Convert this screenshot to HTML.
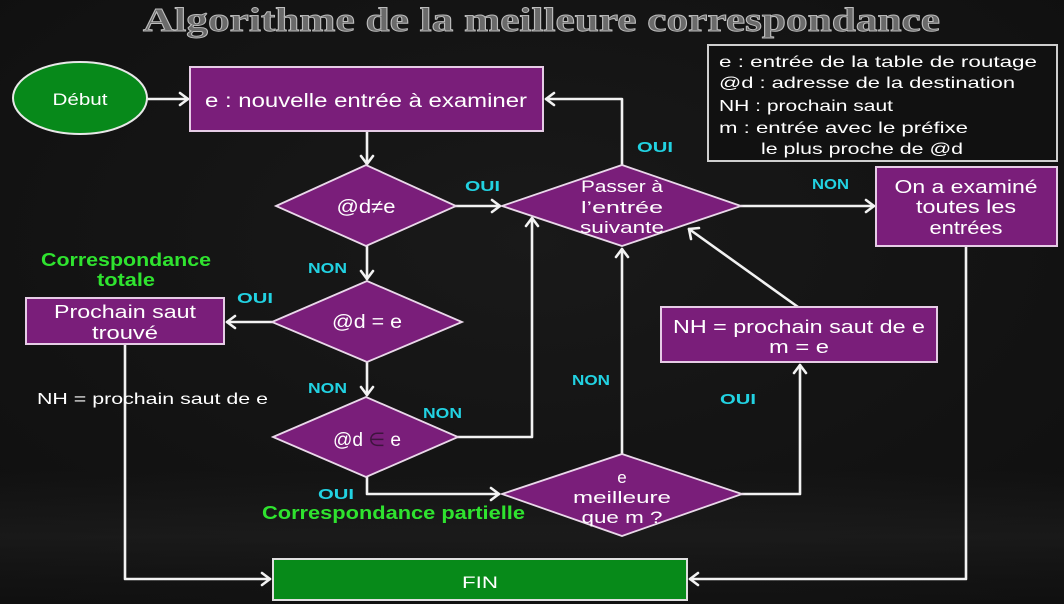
<!DOCTYPE html>
<html><head><meta charset="utf-8"><style>
html,body{margin:0;padding:0;background:#141414;}
svg{display:block;}
text{font-family:"Liberation Sans","DejaVu Sans",sans-serif;}
</style></head><body>
<svg width="1064" height="604" viewBox="0 0 1064 604" xmlns="http://www.w3.org/2000/svg">
<defs>
<radialGradient id="bg" cx="50%" cy="40%" r="75%">
<stop offset="0" stop-color="#191919"/><stop offset="1" stop-color="#0f0f0f"/>
</radialGradient>
<linearGradient id="fog" x1="0" y1="0" x2="0" y2="1">
<stop offset="0" stop-color="#2a2a2a" stop-opacity="0"/>
<stop offset="0.5" stop-color="#2a2a2a" stop-opacity="0.35"/>
<stop offset="1" stop-color="#1a1a1a" stop-opacity="0.1"/>
</linearGradient>
</defs>
<rect width="1064" height="604" fill="url(#bg)"/>
<rect x="0" y="470" width="1064" height="134" fill="url(#fog)"/>

<!-- Title -->
<text x="143" y="31" font-weight="bold" font-size="34" fill="#6a6a6a" stroke="#bdbdbd" stroke-width="0.9" textLength="797" lengthAdjust="spacingAndGlyphs" style="font-family:'Liberation Serif',serif">Algorithme de la meilleure correspondance</text>

<!-- connectors -->
<g stroke="#f2f2f2" stroke-width="2.6" fill="none" stroke-linecap="round" stroke-linejoin="round">
<line x1="147" y1="99" x2="188" y2="99"/><polyline points="180,93 188,99 180,105"/>
<line x1="367" y1="131" x2="367" y2="164"/><polyline points="361,156 367,164 373,156"/>
<line x1="456" y1="206" x2="500" y2="206"/><polyline points="492,200 500,206 492,212"/>
<polyline points="622,165 622,99 546,99"/><polyline points="554,93 546,99 554,105"/>
<line x1="741" y1="206" x2="874" y2="206"/><polyline points="866,200 874,206 866,212"/>
<polyline points="966,246 966,579 690,579"/><polyline points="698,573 690,579 698,585"/>
<line x1="367" y1="246" x2="367" y2="279"/><polyline points="361,271 367,279 373,271"/>
<line x1="272" y1="322" x2="227" y2="322"/><polyline points="235,316 227,322 235,328"/>
<line x1="367" y1="362" x2="367" y2="395"/><polyline points="361,387 367,395 373,387"/>
<polyline points="458,437 532,437 532,218"/><polyline points="526,226 532,218 538,226"/>
<polyline points="125,344 125,579 270,579"/><polyline points="262,573 270,579 262,585"/>
<polyline points="367,477 367,494 499,494"/><polyline points="491,488 499,494 491,500"/>
<line x1="622" y1="454" x2="622" y2="249"/><polyline points="616,257 622,249 628,257"/>
<polyline points="742,494 800,494 800,365"/><polyline points="794,373 800,365 806,373"/>
<line x1="798" y1="307" x2="689" y2="229"/><polyline points="691,239 689,229 699,228"/>
</g>

<!-- Debut -->
<ellipse cx="80" cy="98" rx="67" ry="36" fill="#07891a" stroke="#e8e8e8" stroke-width="2"/>
<text x="80" y="105" font-size="17" fill="#fff" text-anchor="middle" textLength="55" lengthAdjust="spacingAndGlyphs">Début</text>

<!-- Boxes -->
<g stroke="#e6cce6" stroke-width="2" fill="#7a1e7a">
<rect x="190" y="67" width="353" height="64"/>
<rect x="26" y="298" width="198" height="46"/>
<rect x="876" y="167" width="181" height="79"/>
<rect x="661" y="307" width="276" height="55"/>
</g>
<rect x="273" y="559" width="414" height="41" fill="#078a19" stroke="#e0e0e0" stroke-width="2"/>
<rect x="708" y="45" width="349" height="116" fill="#111" stroke="#cfcfcf" stroke-width="2"/>

<!-- Diamonds -->
<g stroke="#ead8ea" stroke-width="1.8" fill="#7a1e7a">
<polygon points="276,206 366,165 456,206 366,246"/>
<polygon points="272,322 367,281 462,322 367,362"/>
<polygon points="273,437 366,397 458,437 366,477"/>
<polygon points="502,206 622,165 741,206 622,246"/>
<polygon points="502,494 622,454 742,494 622,536"/>
</g>

<!-- Node text -->
<g fill="#fff" text-anchor="middle">
<text x="366" y="107" font-size="19" textLength="322" lengthAdjust="spacingAndGlyphs">e : nouvelle entrée à examiner</text>
<text x="366" y="213" font-size="19" textLength="59" lengthAdjust="spacingAndGlyphs">@d≠e</text>
<text x="367" y="328" font-size="19" textLength="70" lengthAdjust="spacingAndGlyphs">@d = e</text>
<text x="367" y="446" font-size="19" textLength="68" lengthAdjust="spacingAndGlyphs">@d <tspan fill="#3e143e">∈</tspan> e</text>
<text x="622" y="192" font-size="17" textLength="82" lengthAdjust="spacingAndGlyphs">Passer à</text>
<text x="622" y="213" font-size="17" textLength="82" lengthAdjust="spacingAndGlyphs">l’entrée</text>
<text x="622" y="233" font-size="17" textLength="84" lengthAdjust="spacingAndGlyphs">suivante</text>
<text x="966" y="193" font-size="18" textLength="143" lengthAdjust="spacingAndGlyphs">On a examiné</text>
<text x="966" y="213" font-size="18" textLength="100" lengthAdjust="spacingAndGlyphs">toutes les</text>
<text x="966" y="234" font-size="18" textLength="73" lengthAdjust="spacingAndGlyphs">entrées</text>
<text x="125" y="318" font-size="18" textLength="142" lengthAdjust="spacingAndGlyphs">Prochain saut</text>
<text x="125" y="339" font-size="18" textLength="66" lengthAdjust="spacingAndGlyphs">trouvé</text>
<text x="799" y="333" font-size="18" textLength="252" lengthAdjust="spacingAndGlyphs">NH = prochain saut de e</text>
<text x="799" y="353" font-size="18" textLength="60" lengthAdjust="spacingAndGlyphs">m = e</text>
<text x="622" y="483" font-size="17">e</text>
<text x="622" y="503" font-size="17" textLength="98" lengthAdjust="spacingAndGlyphs">meilleure</text>
<text x="622" y="523" font-size="17" textLength="81" lengthAdjust="spacingAndGlyphs">que m ?</text>
<text x="480" y="588" font-size="17" textLength="36" lengthAdjust="spacingAndGlyphs">FIN</text>
</g>

<!-- Legend -->
<g fill="#fff" font-size="16">
<text x="719" y="67" textLength="318" lengthAdjust="spacingAndGlyphs">e : entrée de la table de routage</text>
<text x="719" y="88" textLength="296" lengthAdjust="spacingAndGlyphs">@d : adresse de la destination</text>
<text x="719" y="111" textLength="174" lengthAdjust="spacingAndGlyphs">NH : prochain saut</text>
<text x="719" y="133" textLength="249" lengthAdjust="spacingAndGlyphs">m : entrée avec le préfixe</text>
<text x="761" y="154" textLength="202" lengthAdjust="spacingAndGlyphs">le plus proche de @d</text>
</g>

<!-- free text -->
<text x="37" y="404" font-size="16" fill="#fff" textLength="231" lengthAdjust="spacingAndGlyphs">NH = prochain saut de e</text>
<g fill="#2fe32f" font-size="18" font-weight="bold">
<text x="126" y="266" text-anchor="middle" textLength="170" lengthAdjust="spacingAndGlyphs">Correspondance</text>
<text x="126" y="286" text-anchor="middle" textLength="58" lengthAdjust="spacingAndGlyphs">totale</text>
<text x="262" y="519" textLength="263" lengthAdjust="spacingAndGlyphs">Correspondance partielle</text>
</g>

<!-- cyan labels -->
<g fill="#22d2e2" font-size="15" font-weight="bold">
<text x="465" y="191" textLength="35" lengthAdjust="spacingAndGlyphs">OUI</text>
<text x="637" y="152" textLength="36" lengthAdjust="spacingAndGlyphs">OUI</text>
<text x="812" y="189" textLength="37" lengthAdjust="spacingAndGlyphs">NON</text>
<text x="308" y="273" textLength="39" lengthAdjust="spacingAndGlyphs">NON</text>
<text x="237" y="303" textLength="36" lengthAdjust="spacingAndGlyphs">OUI</text>
<text x="308" y="393" textLength="39" lengthAdjust="spacingAndGlyphs">NON</text>
<text x="423" y="418" textLength="39" lengthAdjust="spacingAndGlyphs">NON</text>
<text x="318" y="499" textLength="36" lengthAdjust="spacingAndGlyphs">OUI</text>
<text x="572" y="385" textLength="38" lengthAdjust="spacingAndGlyphs">NON</text>
<text x="720" y="404" textLength="36" lengthAdjust="spacingAndGlyphs">OUI</text>
</g>
</svg>
</body></html>
